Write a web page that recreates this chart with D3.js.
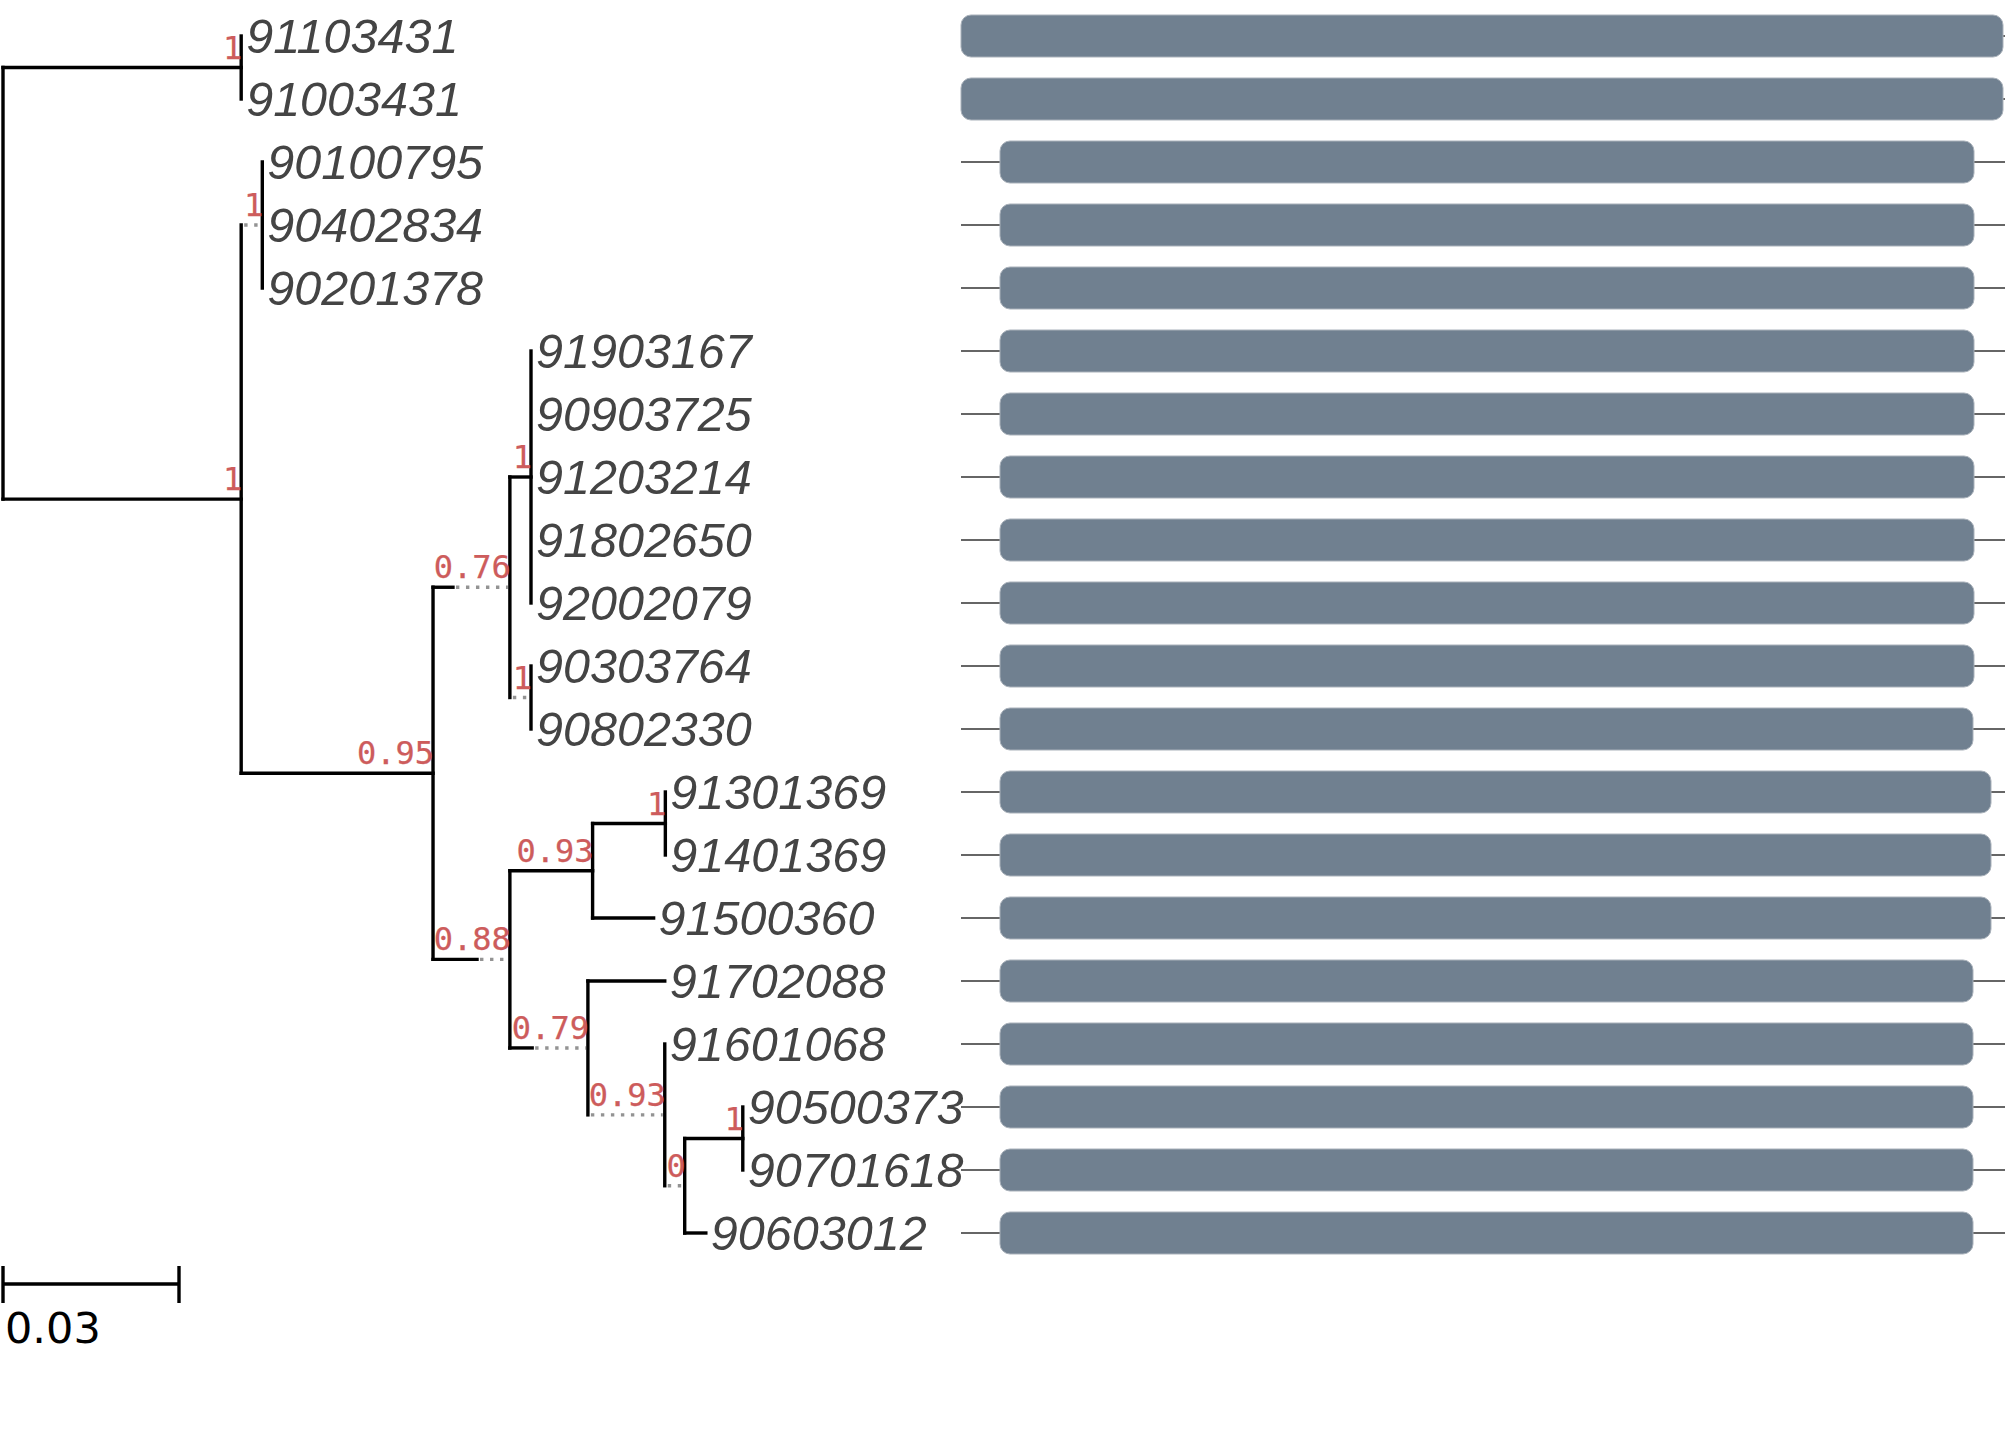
<!DOCTYPE html>
<html>
<head>
<meta charset="utf-8">
<script src="https://cdn.jsdelivr.net/npm/d3@7"></script>
<style>
  body { margin: 0; background: #fff; }
  svg { display: block; }
</style>
</head>
<body>
<div id="chart"></div>
<script>
// tips, top to bottom
const tipLabels = [
  "91103431", "91003431", "90100795", "90402834", "90201378",
  "91903167", "90903725", "91203214", "91802650", "92002079",
  "90303764", "90802330", "91301369", "91401369", "91500360",
  "91702088", "91601068", "90500373", "90701618", "90603012"
]

// [child, parent, branch length, dotted part of the branch]
const treeEdges = [
  ["n1", "root", 0.0406, 0],
  ["91103431", "n1", 0, 0],
  ["91003431", "n1", 0, 0],
  ["n2", "root", 0.0406, 0],
  ["n3", "n2", 0.0036, 0.0036],
  ["90100795", "n3", 0, 0],
  ["90402834", "n3", 0, 0],
  ["90201378", "n3", 0, 0],
  ["n4", "n2", 0.0327, 0],
  ["n5", "n4", 0.0131, 0.0097],
  ["n6", "n5", 0.0036, 0],
  ["91903167", "n6", 0, 0],
  ["90903725", "n6", 0, 0],
  ["91203214", "n6", 0, 0],
  ["91802650", "n6", 0, 0],
  ["92002079", "n6", 0, 0],
  ["n7", "n5", 0.0036, 0.0036],
  ["90303764", "n7", 0, 0],
  ["90802330", "n7", 0, 0],
  ["n8", "n4", 0.0131, 0.0056],
  ["n9", "n8", 0.0141, 0],
  ["n10", "n9", 0.0124, 0],
  ["91301369", "n10", 0, 0],
  ["91401369", "n10", 0, 0],
  ["91500360", "n9", 0.0104, 0],
  ["n11", "n8", 0.0133, 0.0095],
  ["91702088", "n11", 0.0131, 0],
  ["n12", "n11", 0.0131, 0.0131],
  ["91601068", "n12", 0, 0],
  ["n13", "n12", 0.0034, 0.0034],
  ["n14", "n13", 0.0099, 0],
  ["90500373", "n14", 0, 0],
  ["90701618", "n14", 0, 0],
  ["90603012", "n13", 0.0036, 0]
]

// node support values
const supportNodes = ["n1", "n2", "n3", "n4", "n5", "n6", "n7", "n8", "n9", "n10", "n11", "n12", "n13", "n14"]
const supportValues = ["1", "1", "1", "0.95", "0.76", "1", "1", "0.88", "0.93", "1", "0.79", "0.93", "0", "1"]

// gene track, one per tip (same order as tipLabels)
const seqLength = 1044
const geneStart = [0, 0, 39, 39, 39, 39, 39, 39, 39, 39, 39, 39, 39, 39, 39, 39, 39, 39, 39, 39]
const geneEnd = [1042, 1042, 1013, 1013, 1013, 1013, 1013, 1013, 1013, 1013, 1013, 1012,
                 1030, 1030, 1030, 1012, 1012, 1012, 1012, 1012]

const scaleBarValue = 0.03

const width = 2007, height = 1442

const svg = d3.select("#chart")
  .append("svg")
  .attr("width", width)
  .attr("height", height)

// build the tree
const rows = [{ id: "root", parentId: null, len: 0, dot: 0 }]
  .concat(treeEdges.map(e => ({ id: e[0], parentId: e[1], len: e[2], dot: e[3] })))
const root = d3.stratify().id(d => d.id).parentId(d => d.parentId)(rows)

const x = d3.scaleLinear().domain([0, scaleBarValue]).range([3, 179])
const y = d3.scalePoint().domain(tipLabels).range([36, 1233])

root.eachBefore(d => { d.dist = d.parent ? d.parent.dist + d.data.len : 0 })
root.eachAfter(d => {
  d.py = d.children ? d3.mean(d.children, c => c.py) : y(d.id)
})

const lw = 3.4
const tree = svg.append("g")

// vertical connectors
tree.selectAll(".vline")
  .data(root.descendants().filter(d => d.children))
  .enter().append("line")
  .attr("x1", d => x(d.dist))
  .attr("x2", d => x(d.dist))
  .attr("y1", d => d3.min(d.children, c => c.py))
  .attr("y2", d => d3.max(d.children, c => c.py))
  .attr("stroke", "#000")
  .attr("stroke-width", lw)
  .attr("stroke-linecap", "square")

const branches = root.descendants().filter(d => d.parent && d.data.len > 0)

// solid part of branches
tree.selectAll(".hline")
  .data(branches.filter(d => d.data.len - d.data.dot > 0.00001))
  .enter().append("line")
  .attr("x1", d => x(d.parent.dist))
  .attr("x2", d => x(d.dist - d.data.dot))
  .attr("y1", d => d.py)
  .attr("y2", d => d.py)
  .attr("stroke", "#000")
  .attr("stroke-width", lw)
  .attr("stroke-linecap", "square")

// dotted part of branches
tree.selectAll(".dline")
  .data(branches.filter(d => d.data.dot > 0))
  .enter().append("line")
  .attr("x1", d => x(d.dist - d.data.dot) + 3)
  .attr("x2", d => x(d.dist) - 2)
  .attr("y1", d => d.py)
  .attr("y2", d => d.py)
  .attr("stroke", "#939393")
  .attr("stroke-width", lw)
  .attr("stroke-dasharray", "3.4,6.6")

// tip labels
tree.selectAll(".tip")
  .data(root.leaves())
  .enter().append("text")
  .attr("x", d => x(d.dist) + 5)
  .attr("y", d => d.py)
  .attr("dy", "0.35em")
  .attr("font-family", "'Liberation Sans', Arial, sans-serif")
  .attr("font-style", "italic")
  .attr("font-size", 48.5)
  .attr("fill", "#444")
  .text(d => d.id)

// support labels
const byId = new Map(root.descendants().map(d => [d.id, d]))
tree.selectAll(".support")
  .data(supportNodes.map((id, i) => ({ node: byId.get(id), value: supportValues[i] })))
  .enter().append("text")
  .attr("x", d => x(d.node.dist) + 1)
  .attr("y", d => d.node.py - 9)
  .attr("text-anchor", "end")
  .attr("font-family", "'DejaVu Sans Mono', monospace")
  .attr("font-size", 32)
  .attr("fill", "#CD5C5C")
  .attr("stroke", "#CD5C5C")
  .attr("stroke-width", 0.25)
  .text(d => d.value)

// scale bar
const sb = svg.append("g")
const sbY = 1284
sb.append("line")
  .attr("x1", x(0)).attr("x2", x(scaleBarValue))
  .attr("y1", sbY).attr("y2", sbY)
  .attr("stroke", "#000").attr("stroke-width", lw)
sb.selectAll(".tick")
  .data([0, scaleBarValue])
  .enter().append("line")
  .attr("x1", d => x(d)).attr("x2", d => x(d))
  .attr("y1", sbY - 18).attr("y2", sbY + 19)
  .attr("stroke", "#000").attr("stroke-width", lw)
sb.append("text")
  .attr("x", x(0) + 2)
  .attr("y", 1343)
  .attr("font-family", "'DejaVu Sans', sans-serif")
  .attr("font-size", 43)
  .attr("fill", "#000")
  .text(scaleBarValue)

// gene tracks
const gx = d3.scaleLinear().domain([0, seqLength]).range([961, 2005])
const barH = 42
const genes = svg.append("g")
const tracks = genes.selectAll(".track")
  .data(tipLabels.map((t, i) => ({ tip: t, start: geneStart[i], end: geneEnd[i] })))
  .enter().append("g")

tracks.append("line")
  .attr("x1", gx(0)).attr("x2", gx(seqLength))
  .attr("y1", d => y(d.tip)).attr("y2", d => y(d.tip))
  .attr("stroke", "#666").attr("stroke-width", 2)

tracks.append("rect")
  .attr("x", d => gx(d.start))
  .attr("width", d => gx(d.end) - gx(d.start))
  .attr("y", d => y(d.tip) - barH / 2)
  .attr("height", barH)
  .attr("rx", 10)
  .attr("fill", "slategray")
  .attr("stroke", "#a9b1ba")
  .attr("stroke-width", 1)
</script>
</body>
</html>
